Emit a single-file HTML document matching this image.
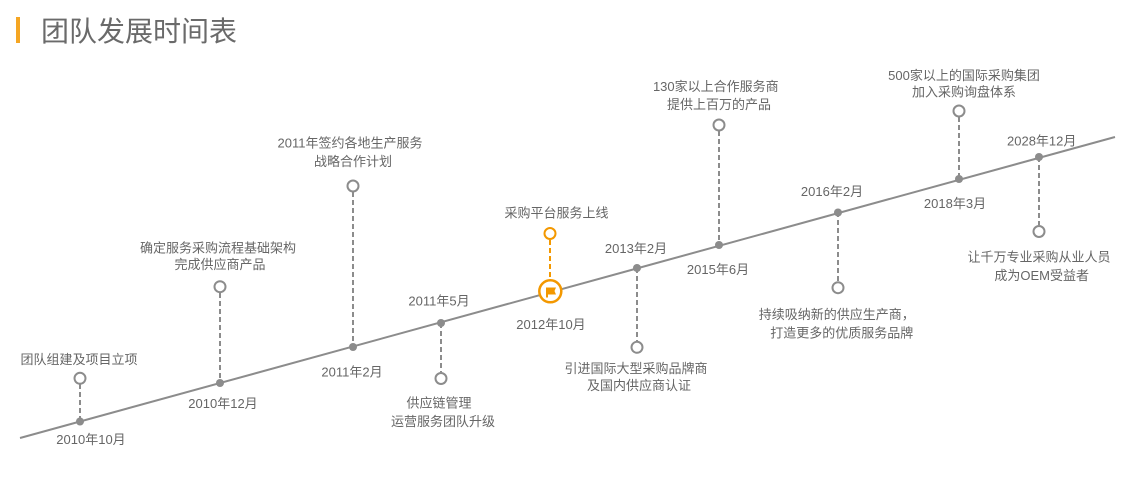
<!DOCTYPE html>
<html>
<head>
<meta charset="utf-8">
<style>
html,body{margin:0;padding:0;background:#fff;}
svg{display:block;}
text{font-family:"Liberation Sans","Noto Sans CJK SC",sans-serif;font-size:13px;fill:#666;}
</style>
</head>
<body>
<svg width="1121" height="479" viewBox="0 0 1121 479" xmlns="http://www.w3.org/2000/svg">
  <!-- title -->
  <rect x="16" y="17" width="4" height="26" fill="#f5a623"/>
  <text x="41" y="41" style="font-size:28px;fill:#6a6a6a;">团队发展时间表</text>

  <!-- main line -->
  <line x1="20" y1="438" x2="1115" y2="137" stroke="#8c8c8c" stroke-width="2"/>

  <g stroke="#8c8c8c" stroke-width="2" stroke-dasharray="5,3" fill="none">
    <line x1="80" y1="384" x2="80" y2="421"/>
    <line x1="220" y1="293" x2="220" y2="383"/>
    <line x1="353" y1="192" x2="353" y2="347"/>
    <line x1="441" y1="323" x2="441" y2="372"/>
    <line x1="637" y1="268" x2="637" y2="341"/>
    <line x1="719" y1="131" x2="719" y2="245"/>
    <line x1="838" y1="212" x2="838" y2="281"/>
    <line x1="959" y1="117" x2="959" y2="179"/>
    <line x1="1039" y1="157" x2="1039" y2="225"/>
  </g>
  <line x1="550" y1="240" x2="550" y2="279" stroke="#f39800" stroke-width="2" stroke-dasharray="5,3"/>

  <!-- dots -->
  <g fill="#8c8c8c">
    <circle cx="80" cy="421.5" r="4"/>
    <circle cx="220" cy="383" r="4"/>
    <circle cx="353" cy="347" r="4"/>
    <circle cx="441" cy="323" r="4"/>
    <circle cx="637" cy="268" r="4"/>
    <circle cx="719" cy="245" r="4"/>
    <circle cx="838" cy="212.5" r="4"/>
    <circle cx="959" cy="179" r="4"/>
    <circle cx="1039" cy="157" r="4"/>
  </g>

  <!-- hollow circles -->
  <g fill="#fff" stroke="#8c8c8c" stroke-width="2">
    <circle cx="80" cy="378.3" r="5.5"/>
    <circle cx="220" cy="286.7" r="5.5"/>
    <circle cx="353" cy="186" r="5.5"/>
    <circle cx="441" cy="378.5" r="5.5"/>
    <circle cx="637" cy="347.3" r="5.5"/>
    <circle cx="719" cy="125" r="5.5"/>
    <circle cx="838" cy="287.7" r="5.5"/>
    <circle cx="959" cy="111" r="5.5"/>
    <circle cx="1039" cy="231.5" r="5.5"/>
  </g>
  <circle cx="550" cy="233.5" r="5.5" fill="#fff" stroke="#f39800" stroke-width="2"/>

  <!-- flag circle -->
  <circle cx="550.3" cy="291.3" r="11" fill="#fff" stroke="#f39800" stroke-width="2.5"/>
  <rect x="546" y="287.5" width="2" height="10" fill="#f39800"/>
  <path d="M547.5 287.5 L556 287.5 L554.5 291 L556 294.5 L547.5 294.5 Z" fill="#f39800"/>

  <!-- labels -->
  <g text-anchor="middle">
    <text x="79" y="364">团队组建及项目立项</text>
    <text x="91" y="444">2010年10月</text>

    <text x="218" y="252.5">确定服务采购流程基础架构</text>
    <text x="220" y="269">完成供应商产品</text>
    <text x="223" y="408">2010年12月</text>

    <text x="350" y="147.5">2011年签约各地生产服务</text>
    <text x="353" y="166">战略合作计划</text>
    <text x="352" y="376.5">2011年2月</text>

    <text x="439" y="305.5">2011年5月</text>
    <text x="439" y="407.5">供应链管理</text>
    <text x="443" y="426">运营服务团队升级</text>

    <text x="556.5" y="217.5">采购平台服务上线</text>
    <text x="551" y="329">2012年10月</text>

    <text x="636" y="253">2013年2月</text>
    <text x="636" y="373">引进国际大型采购品牌商</text>
    <text x="639" y="390">及国内供应商认证</text>

    <text x="715.8" y="91">130家以上合作服务商</text>
    <text x="719" y="109">提供上百万的产品</text>
    <text x="718" y="274">2015年6月</text>

    <text x="832" y="196">2016年2月</text>
    <text x="836.7" y="319">持续吸纳新的供应生产商，</text>
    <text x="841.7" y="337.5">打造更多的优质服务品牌</text>

    <text x="964" y="80">500家以上的国际采购集团</text>
    <text x="964" y="96.7">加入采购询盘体系</text>
    <text x="955" y="208">2018年3月</text>

    <text x="1041.7" y="145.5">2028年12月</text>
    <text x="1039" y="261.7">让千万专业采购从业人员</text>
    <text x="1041.7" y="280">成为OEM受益者</text>
  </g>
</svg>
</body>
</html>
